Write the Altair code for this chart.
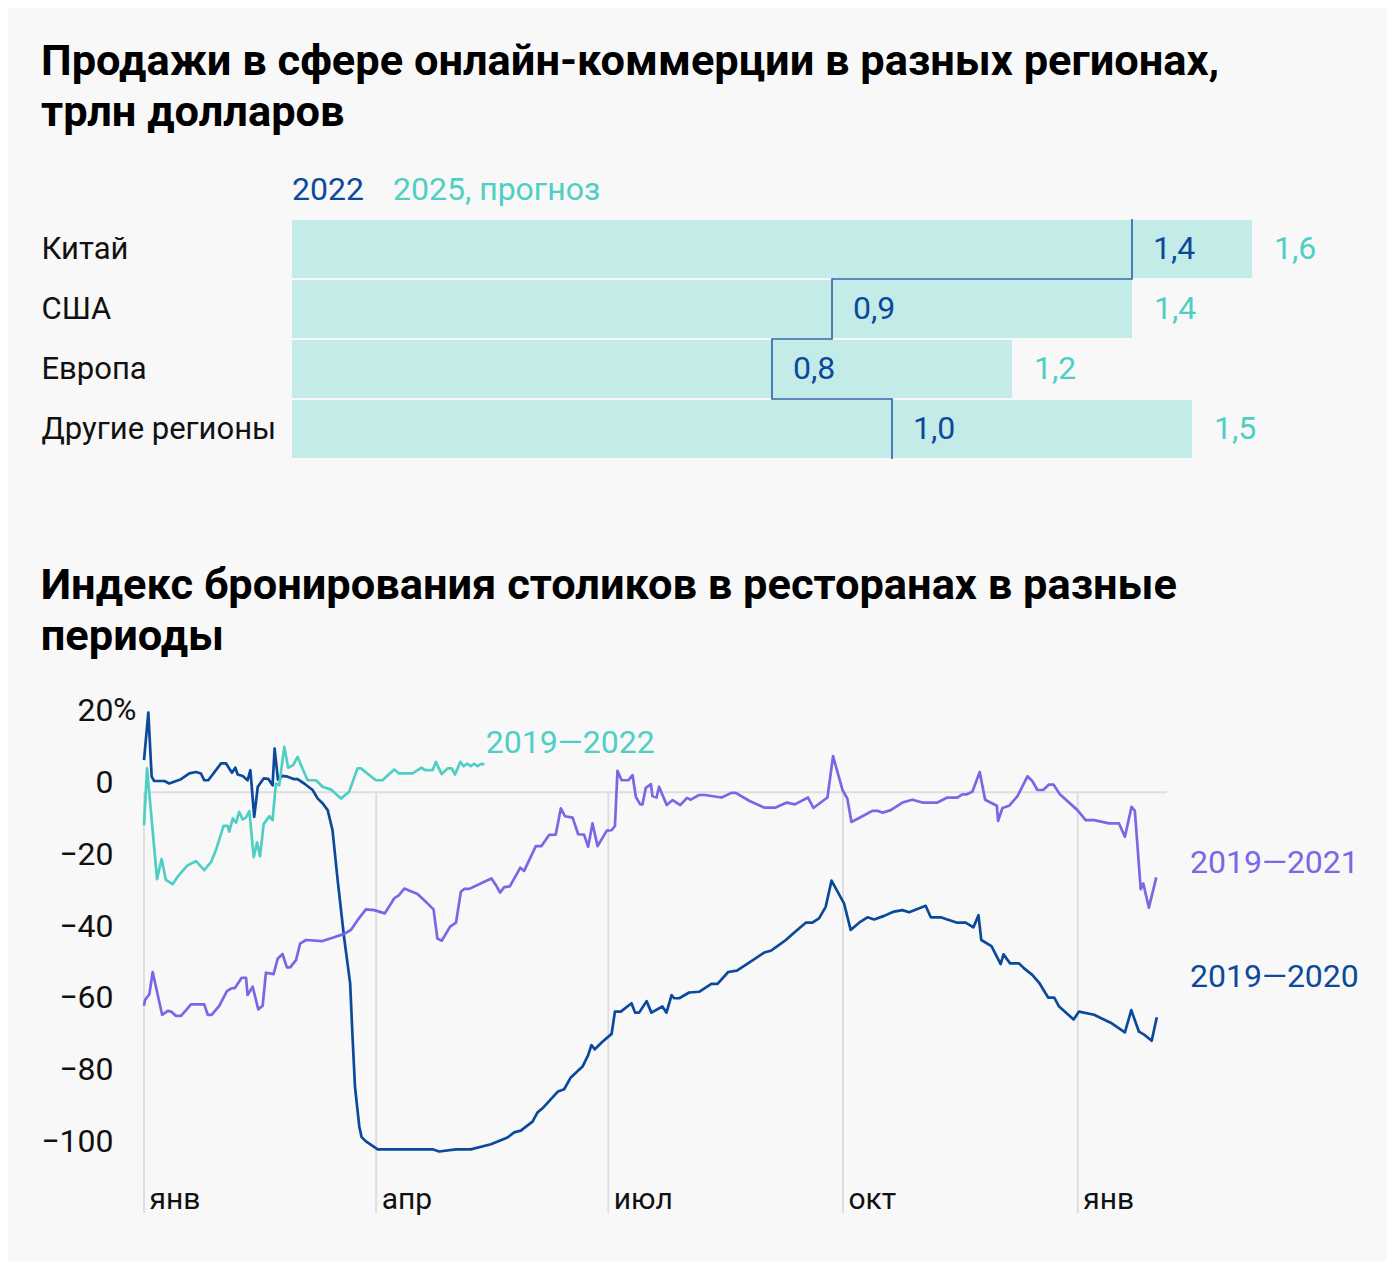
import json
import altair as alt
import pandas as pd

# ---------------- data: e-commerce sales ----------------
regions = ["Китай", "США", "Европа", "Другие регионы"]
sales_2022 = [1.4, 0.9, 0.8, 1.0]
sales_2025 = [1.6, 1.4, 1.2, 1.5]

# ---------------- data: restaurant booking index ----------------
tick_days = [0, 91, 182, 274, 366]
tick_names = ["янв", "апр", "июл", "окт", "янв"]
y_ticks = [-100, -80, -60, -40, -20, 0, 20]

series_names = ["2019—2020", "2019—2021", "2019—2022"]

s2020 = [
    (0, 8.9), (1.7, 22.1), (3, 4.3), (4, 3.1), (8, 3.1), (9.9, 2.4), (14.5, 3.6), (17.8, 5.2),
    (20.4, 5.6), (22.3, 5.2), (23.6, 3.3), (25.2, 3.3), (30.2, 8.0), (32.1, 8.0), (34.5, 5.4),
    (35.8, 6.8), (36.7, 4.9), (38.7, 4.5), (40.6, 3.3), (41.7, 6.1), (43.2, -6.9), (44.6, 1.5),
    (46.9, 3.8), (48.7, 3.7), (50.4, 1.9), (51.2, 12.1), (52.5, 3.5), (54.3, 4.5), (56.3, 4.3),
    (58.9, 3.6), (60.2, 3.6), (62.8, 2.4), (66.1, 0.6), (68.1, -1.8), (70, -3.1), (72, -5),
    (73.9, -10.6), (75.9, -24.4), (78.4, -40.2), (80.8, -53.1), (81.8, -68.9), (82.7, -81.9),
    (84.4, -93), (85.3, -95.9), (87, -97.1), (91.6, -99.3), (113.1, -99.3), (115.7, -99.9),
    (122.3, -99.3), (128.1, -99.3), (136, -97.9), (142.5, -96), (145.1, -94.6), (147.7, -94.1),
    (152.3, -91.6), (154.2, -89.1), (156.2, -87.9), (162.3, -83.2), (164.7, -82.6), (167.3, -79.3),
    (171.9, -76.3), (174.1, -73.1), (175.4, -70.3), (176.7, -71.5), (179.7, -69.4), (183.3, -67.2),
    (184.6, -61), (186.9, -61), (191.1, -58.7), (192.5, -61.3), (194.1, -61.3), (197, -58.1),
    (198.9, -61.3), (203.2, -59.6), (204.8, -61.3), (206.8, -56.4), (207.8, -57.3), (209.8, -57.3),
    (213.7, -55.7), (217.6, -55.5), (222.4, -53.3), (224.8, -53.3), (229, -50), (232.4, -49.6),
    (237.2, -47.4), (243.1, -44.6), (245.7, -44.1), (248.3, -42.8), (251.6, -41.1), (254.8, -39.1),
    (259.4, -36.3), (262, -36.3), (264.6, -35.1), (267.2, -31.9), (269.5, -24.6), (274.4, -30.9),
    (277, -38.3), (280.3, -36.3), (283.6, -34.8), (286.2, -35.4), (290.1, -34.4), (294, -33.2),
    (297.3, -32.8), (299.9, -33.4), (306.4, -31.6), (308.4, -34.8), (312.3, -34.8), (314.9, -35.4),
    (318.8, -36.3), (322.1, -36.3), (325.1, -37.6), (327.1, -34.2), (328.2, -41.1), (332.2, -42.8),
    (335.8, -47.8), (336.9, -45.1), (339.5, -47.6), (343, -47.6), (345, -49), (348.2, -50.8),
    (350.9, -53), (354.4, -57.1), (356.8, -57.1), (358.7, -59.6), (364.4, -63.2), (366.5, -61),
    (372.4, -61.9), (378.9, -64.1), (384.5, -66.8), (387, -60.6), (390, -66.6), (392.2, -67.5),
    (395, -69.1), (397, -62.6),
]

s2021 = [
    (0, -59.4), (0.4, -57.8), (2.1, -56.2), (3.4, -50), (7.1, -61.9), (9.3, -60.8), (10.6, -61),
    (12.5, -62.2), (14.5, -62.2), (16.5, -60.6), (18.4, -59), (23.6, -59), (25, -61.9), (26.5, -61.9),
    (29.5, -59.4), (32.5, -55.3), (34.1, -54.6), (35.7, -54.4), (38.3, -51.6), (40, -51.6),
    (40.6, -56.4), (42.6, -54.1), (44.8, -60.4), (46.5, -59.4), (47.8, -50.2), (50.8, -50.6),
    (52.4, -46.3), (54.3, -45), (56, -48.7), (57.3, -48.7), (59.6, -46.7), (61.2, -42.1),
    (63.5, -41.1), (70, -41.4), (73.9, -40.5), (78.5, -39.4), (81.1, -38.3), (83.7, -35.6),
    (87, -32.6), (90.2, -32.8), (94.4, -33.7), (98.1, -29.5), (100, -28.6), (102, -26.8),
    (107.2, -28.3), (110.5, -30.5), (113.5, -32.6), (115, -40.7), (116.7, -41.3), (120, -37.4),
    (122.3, -36.3), (124.2, -27.7), (125.5, -26.9), (127.5, -26.9), (133.4, -24.9), (136.2, -24),
    (137.9, -25.8), (139.6, -27.9), (141.2, -26.4), (143.4, -26.2), (147.5, -21), (149, -21.9),
    (153.6, -15), (155.8, -15), (158.8, -11.9), (161.4, -11.8), (163.4, -4.5), (165, -6.7),
    (168, -7.1), (170.2, -11.7), (172.5, -11.8), (174.1, -15.2), (175.8, -8.7), (177.8, -15),
    (181.4, -10.7), (183.3, -10.6), (184.6, -9.4), (185.6, 5.9), (187.2, 3.3), (189.8, 3.3),
    (191.5, 4.7), (192.8, -1.3), (194.5, -3.4), (195.4, -3.4), (196.7, 1.2), (198.7, 2.2),
    (199.3, -1.1), (200.9, -1.5), (201.9, 1.5), (204.9, -3.6), (207.2, -2.2), (210.2, -3.6),
    (212.8, -1.6), (214.3, -2.1), (217.6, -0.8), (219.8, -0.8), (226.4, -1.5), (230.3, -0.2),
    (232, -0.2), (237.2, -2.4), (243.1, -4.3), (247.6, -4.3), (252, -2.9), (255.1, -3.4),
    (260.3, -1.5), (262.4, -4.4), (267.9, -1.5), (270.1, 10), (273.8, 0.6), (275.7, -1.8),
    (277.3, -8.3), (281.6, -6.7), (285.5, -5.2), (287.5, -5.2), (289.5, -5.7), (292.7, -5),
    (297.3, -2.9), (301.2, -2.1), (305.1, -2.9), (311, -2.9), (314.9, -1.5), (318.8, -1.5),
    (320.8, -0.6), (322.5, -0.6), (324.7, 0.1), (327.6, 5.6), (329.7, -2.1), (334.3, -3.8),
    (334.8, -8), (336.5, -4.4), (339.1, -3.8), (342.4, -1.1), (346.3, 4.4), (348.2, 3.1),
    (350.2, 0.6), (352.5, 0.6), (354.7, 2.1), (356.5, 2.1), (359, -0.6), (365.9, -5),
    (369.1, -7.8), (372.4, -7.8), (378.3, -8.7), (382.2, -8.7), (384.5, -12.4), (387.1, -4.1),
    (388.4, -5.2), (390.7, -27), (391.7, -25.4), (393.9, -32.1), (396.8, -23.7),
]

s2022 = [
    (0, -9.2), (1.2, 6.6), (5.1, -24.2), (6.9, -18.6), (8.6, -24.4), (11.2, -25.6), (13.2, -23.5),
    (17.1, -20.3), (20.4, -19.2), (23.6, -21.7), (26.3, -19.4), (28.2, -16.1), (31.2, -9.4),
    (32.8, -9.4), (33.4, -11), (34.8, -7.3), (36.1, -8.5), (37.3, -5.5), (38.7, -7.6), (40, -7),
    (41.3, -5.3), (43, -18.1), (44.3, -14), (45.5, -17.8), (46.9, -8.9), (49.1, -6.7), (50.4, -7.8),
    (51.7, 2.4), (53, 1.9), (55, 12.6), (56.5, 6.8), (58.5, 7.5), (60.2, 9.8), (64.1, 3.3),
    (67.4, 3.3), (70, 1.5), (73.3, 0.7), (77.2, -1.8), (80.4, 0.1), (83.7, 6.6), (85, 6.6),
    (90.9, 3.3), (93.5, 3.3), (98.1, 6.3), (100, 5.2), (105.3, 5.2), (108.8, 6.8), (110.1, 6.1),
    (113.1, 6.1), (114.4, 8.4), (116.7, 5), (119, 6.6), (120.6, 6.6), (121.9, 4.9), (124, 8.4),
    (125.3, 7.2), (126.6, 7.9), (128.1, 7.2), (129.4, 7.9), (130.7, 7.2), (132, 7.8), (133.4, 7.8),
]

# series label anchors (day, value)
label_days = [134, 410, 410]
label_vals = [13.6, -19.7, -51.4]
label_series = ["2019—2022", "2019—2021", "2019—2020"]

# ---------------- styles ----------------
DARK = "#0b4a9b"
PURPLE = "#7a67e6"
TEAL = "#4fcfc4"
BAR = "#c3ebe7"
STEP = "#2a63aa"
GRID = "#dedede"
BG = "#f8f8f8"
FONT = "Roboto"
INK = "#111111"

# ================= chart 1: bars =================
bars = pd.DataFrame({
    "region": regions,
    "idx": list(range(len(regions))),
    "v22": sales_2022,
    "v25": sales_2025,
})
bars["zero"] = 0.0
bars["top"] = bars["idx"] + 0.017
bars["bot"] = bars["idx"] + 0.983
bars["mid"] = bars["idx"] + 0.5
bars["l22"] = [f"{v:.1f}".replace(".", ",") for v in sales_2022]
bars["l25"] = [f"{v:.1f}".replace(".", ",") for v in sales_2025]

step_rows = []
for i, v in enumerate(sales_2022):
    step_rows.append({"o": 2 * i, "x": v, "y": i})
    step_rows.append({"o": 2 * i + 1, "x": v, "y": i + 1})
step = pd.DataFrame(step_rows)

# plot area shares its left edge with the line chart below; value 0 sits 148 px in
bx = alt.Scale(domain=[-0.2467, 1.75], nice=False, zero=False)
by = alt.Scale(domain=[0, 4], reverse=True, nice=False, zero=False)
by_axis = alt.Axis(
    values=[0.5, 1.5, 2.5, 3.5],
    labelExpr=f"{json.dumps(regions, ensure_ascii=False)}[floor(datum.value)]",
    labelAlign="left", labelBaseline="middle", labelPadding=103, labelLimit=400,
    labelFontSize=31, labelColor=INK, labelFont=FONT,
    domain=False, ticks=False, grid=False, title=None,
)

bar_rect = alt.Chart(bars).mark_rect(color=BAR).encode(
    x=alt.X("zero:Q", scale=bx, axis=None),
    x2="v25:Q",
    y=alt.Y("top:Q", scale=by, axis=by_axis),
    y2="bot:Q",
)
bar_step = alt.Chart(step).mark_line(color=STEP, strokeWidth=1.6).encode(
    x=alt.X("x:Q", scale=bx, axis=None),
    y=alt.Y("y:Q", scale=by, axis=by_axis),
    order="o:Q",
)
lab22 = alt.Chart(bars).mark_text(align="left", baseline="middle", dx=21, fontSize=32, color=DARK, font=FONT).encode(
    x=alt.X("v22:Q", scale=bx, axis=None),
    y=alt.Y("mid:Q", scale=by, axis=by_axis),
    text="l22:N",
)
lab25 = alt.Chart(bars).mark_text(align="left", baseline="middle", dx=22, fontSize=32, color=TEAL, font=FONT).encode(
    x=alt.X("v25:Q", scale=bx, axis=None),
    y=alt.Y("mid:Q", scale=by, axis=by_axis),
    text="l25:N",
)
leg22 = alt.Chart(pd.DataFrame({"t": ["2022"]})).mark_text(
    align="left", baseline="middle", fontSize=32, color=DARK, font=FONT
).encode(x=alt.value(148), y=alt.value(-29), text="t:N")
leg25 = alt.Chart(pd.DataFrame({"t": ["2025, прогноз"]})).mark_text(
    align="left", baseline="middle", fontSize=32, color=TEAL, font=FONT
).encode(x=alt.value(249), y=alt.value(-29), text="t:N")

chart1 = alt.layer(bar_rect, bar_step, lab22, lab25, leg22, leg25).properties(
    width=1198, height=240,
    title=alt.Title(
        ["Продажи в сфере онлайн-коммерции в разных регионах,", "трлн долларов"],
        anchor="start", fontSize=43.4, fontWeight="bold", color="#000000", font=FONT,
        lineHeight=51, offset=39, baseline="top",
    ),
)

# ================= chart 2: lines =================
rows = []
for name, pts in zip(series_names, [s2020, s2021, s2022]):
    for d, v in pts:
        rows.append({"series": name, "day": d, "val": v})
lines_df = pd.DataFrame(rows)

lx = alt.Scale(domain=[0, 401], nice=False, zero=False)
ly = alt.Scale(domain=[-117, 22], nice=False, zero=False)
col = alt.Scale(domain=series_names, range=[DARK, PURPLE, TEAL])

lx_axis = alt.Axis(
    values=tick_days,
    labelExpr=f"{json.dumps(tick_names, ensure_ascii=False)}[indexof({json.dumps(tick_days)}, datum.value)]",
    labelAlign="left", labelBaseline="alphabetic", labelPadding=-5, labelOffset=5,
    labelFlush=False, labelOverlap=False, labelBound=False,
    labelFontSize=30, labelColor=INK, labelFont=FONT,
    domain=False, ticks=False, grid=False, title=None,
)
ly_axis = alt.Axis(
    values=y_ticks,
    labelExpr="datum.value == 20 ? '20' : (datum.value < 0 ? '\u2212' + format(-datum.value, 'd') : format(datum.value, 'd'))",
    labelAlign="right", labelBaseline="alphabetic", labelPadding=31,
    labelFlush=False, labelOverlap=False,
    labelFontSize=32, labelColor=INK, labelFont=FONT,
    domain=False, ticks=False, grid=False, title=None,
)

vgrid = alt.Chart(pd.DataFrame({"day": tick_days, "y0": 0.0, "y1": -117.0})).mark_rule(
    color=GRID, strokeWidth=2
).encode(
    x=alt.X("day:Q", scale=lx, axis=lx_axis),
    y=alt.Y("y0:Q", scale=ly, axis=ly_axis),
    y2="y1:Q",
)
hgrid = alt.Chart(pd.DataFrame({"a": [0.0], "b": [401.0], "y": [0.0]})).mark_rule(
    color=GRID, strokeWidth=2
).encode(
    x=alt.X("a:Q", scale=lx, axis=lx_axis),
    x2="b:Q",
    y=alt.Y("y:Q", scale=ly, axis=ly_axis),
)
pct = alt.Chart(pd.DataFrame({"val": [20.0], "t": ["%"]})).mark_text(
    align="left", baseline="alphabetic", fontSize=32, color=INK, font=FONT
).encode(
    x=alt.value(-31),
    y=alt.Y("val:Q", scale=ly, axis=ly_axis),
    text="t:N",
)
lines = alt.Chart(lines_df).mark_line(strokeWidth=2.7, strokeJoin="round").encode(
    x=alt.X("day:Q", scale=lx, axis=lx_axis),
    y=alt.Y("val:Q", scale=ly, axis=ly_axis),
    color=alt.Color("series:N", scale=col, legend=None),
)
labels = alt.Chart(pd.DataFrame({"series": label_series, "day": label_days, "val": label_vals})).mark_text(
    align="left", baseline="middle", fontSize=32, font=FONT
).encode(
    x=alt.X("day:Q", scale=lx, axis=lx_axis),
    y=alt.Y("val:Q", scale=ly, axis=ly_axis),
    color=alt.Color("series:N", scale=col, legend=None),
    text="series:N",
)

chart2 = alt.layer(vgrid, hgrid, pct, lines, labels).properties(
    width=1023, height=500,
    title=alt.Title(
        ["Индекс бронирования столиков в ресторанах в разные", "периоды"],
        anchor="start", fontSize=43.4, fontWeight="bold", color="#000000", font=FONT,
        lineHeight=51, offset=35, baseline="top",
    ),
)

chart = alt.vconcat(chart1, chart2, spacing=100).properties(
    background=BG,
    padding={"left": 32, "top": 31, "right": 28, "bottom": 47},
).configure(font=FONT).configure_view(stroke="transparent", strokeWidth=0)

chart.save("out.html", embed_options={"renderer": "svg", "actions": False})
